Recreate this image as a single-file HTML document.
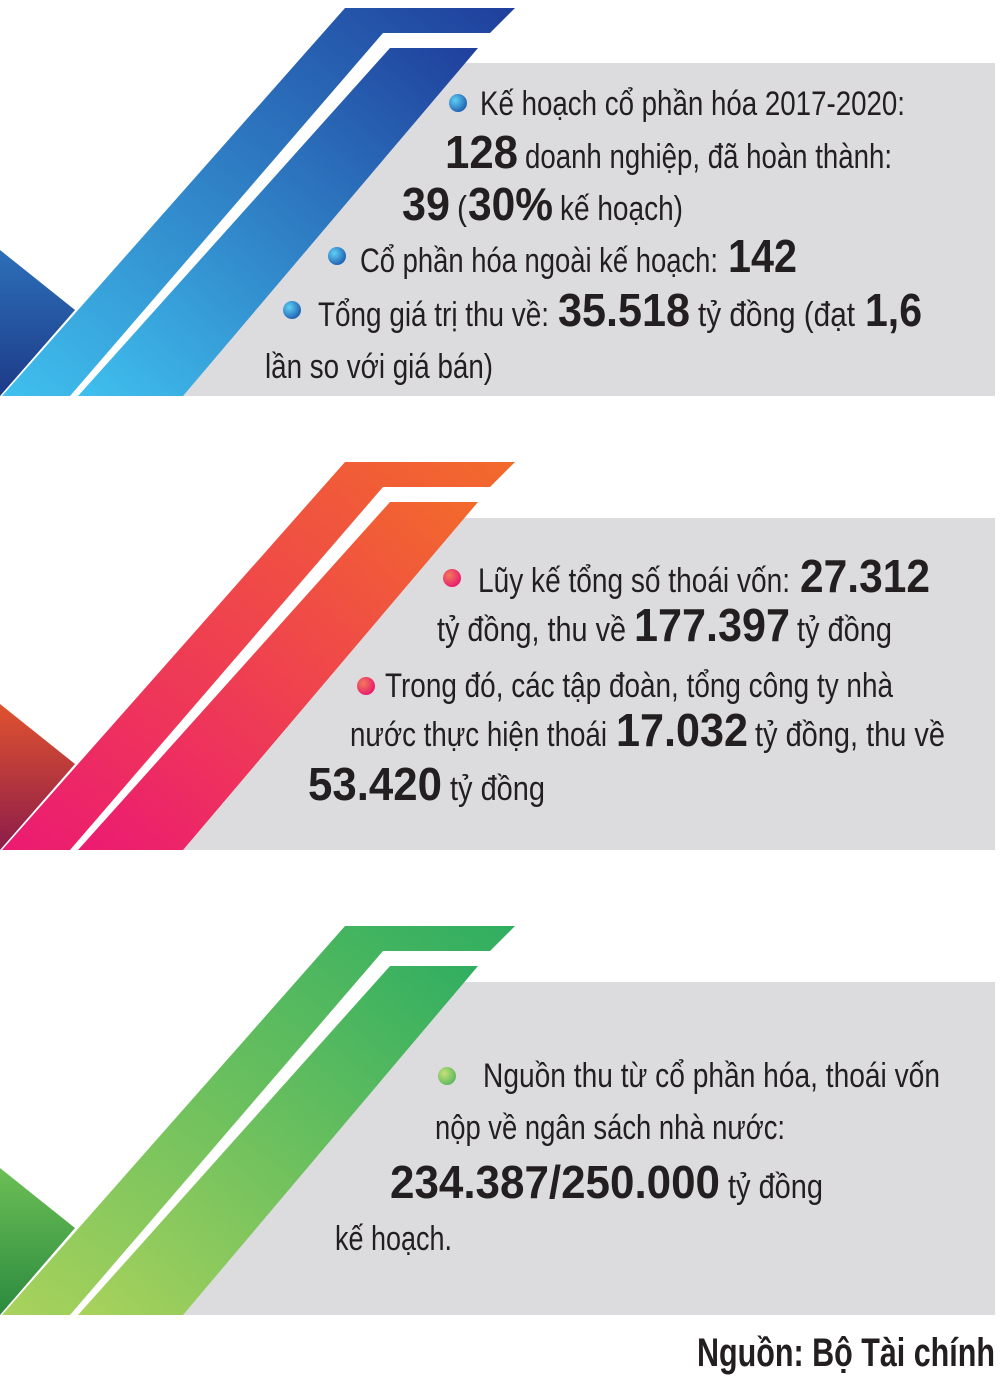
<!DOCTYPE html>
<html><head><meta charset="utf-8"><style>
html,body{margin:0;padding:0;background:#fff;}
svg{display:block;}
text{font-family:"Liberation Sans",sans-serif;fill:#231f20;}
.r{font-size:34px;}
.b{font-size:46px;font-weight:bold;}
</style></head><body>
<svg width="1000" height="1376" viewBox="0 0 1000 1376">
<defs>
<linearGradient id="bO" x1="0" y1="1" x2="1" y2="0"><stop offset="0" stop-color="#3fc0ee"/><stop offset="1" stop-color="#1f3f9c"/></linearGradient>
<linearGradient id="bT" x1="0" y1="0" x2="0" y2="1"><stop offset="0" stop-color="#2c6fb8"/><stop offset="1" stop-color="#1d3a88"/></linearGradient>
<linearGradient id="rO" x1="0" y1="1" x2="1" y2="0"><stop offset="0" stop-color="#ec1a72"/><stop offset="1" stop-color="#f26a2b"/></linearGradient>
<linearGradient id="rT" x1="0" y1="0" x2="0" y2="1"><stop offset="0" stop-color="#e0532f"/><stop offset="1" stop-color="#8c1c4a"/></linearGradient>
<linearGradient id="gO" x1="0" y1="1" x2="1" y2="0"><stop offset="0" stop-color="#a9d25c"/><stop offset="1" stop-color="#2fae60"/></linearGradient>
<linearGradient id="gT" x1="0" y1="0" x2="0" y2="1"><stop offset="0" stop-color="#6cbf55"/><stop offset="1" stop-color="#2b8a3f"/></linearGradient>
<radialGradient id="bB" cx="0.35" cy="0.35" r="0.7"><stop offset="0" stop-color="#5fd0f5"/><stop offset="1" stop-color="#1f5fb0"/></radialGradient>
<radialGradient id="rB" cx="0.35" cy="0.35" r="0.7"><stop offset="0" stop-color="#f27a5a"/><stop offset="1" stop-color="#e8196e"/></radialGradient>
<radialGradient id="gB" cx="0.35" cy="0.35" r="0.7"><stop offset="0" stop-color="#c5e07a"/><stop offset="1" stop-color="#5cb85c"/></radialGradient>
</defs>

<g transform="translate(0,8)">
<polygon points="460,55 995,55 995,388 180,388" fill="#dcdcde"/>
<polygon points="0,242 75,302 0,388" fill="url(#bT)"/>
<polygon points="345,0 515,0 490,25 383,25 70,388 2,388" fill="url(#bO)"/>
<polygon points="390,40 478,40 183,388 78,388" fill="url(#bO)"/>
</g>
<g transform="translate(0,462)">
<polygon points="460,56 995,56 995,388 180,388" fill="#dcdcde"/>
<polygon points="0,242 75,302 0,388" fill="url(#rT)"/>
<polygon points="345,0 515,0 490,25 383,25 70,388 2,388" fill="url(#rO)"/>
<polygon points="390,40 478,40 183,388 78,388" fill="url(#rO)"/>
</g>
<g transform="translate(0,926)">
<polygon points="460,56 995,56 995,389 180,389" fill="#dcdcde"/>
<polygon points="0,242 75,302 0,389" fill="url(#gT)"/>
<polygon points="345,0 515,0 490,25 383,25 70,389 2,389" fill="url(#gO)"/>
<polygon points="390,40 478,40 183,389 78,389" fill="url(#gO)"/>
</g>

<!-- panel 1 text -->
<circle cx="458" cy="103" r="9" fill="url(#bB)"/>
<text class="r" x="480" y="115" textLength="425" lengthAdjust="spacingAndGlyphs">Kế hoạch cổ phần hóa 2017-2020:</text>
<text class="b" x="445" y="168" textLength="73" lengthAdjust="spacingAndGlyphs">128</text>
<text class="r" x="525" y="168" textLength="367" lengthAdjust="spacingAndGlyphs">doanh nghiệp, đã hoàn thành:</text>
<text class="b" x="402" y="220" textLength="48" lengthAdjust="spacingAndGlyphs">39</text>
<text class="r" x="457" y="220" textLength="10" lengthAdjust="spacingAndGlyphs">(</text>
<text class="b" x="468" y="220" textLength="85" lengthAdjust="spacingAndGlyphs">30%</text>
<text class="r" x="560" y="220" textLength="123" lengthAdjust="spacingAndGlyphs">kế hoạch)</text>
<circle cx="337" cy="256" r="9" fill="url(#bB)"/>
<text class="r" x="360" y="272" textLength="358" lengthAdjust="spacingAndGlyphs">Cổ phần hóa ngoài kế hoạch:</text>
<text class="b" x="728" y="272" textLength="69" lengthAdjust="spacingAndGlyphs">142</text>
<circle cx="292" cy="310" r="9" fill="url(#bB)"/>
<text class="r" x="318" y="326" textLength="231" lengthAdjust="spacingAndGlyphs">Tổng giá trị thu về:</text>
<text class="b" x="558" y="326" textLength="132" lengthAdjust="spacingAndGlyphs">35.518</text>
<text class="r" x="698" y="326" textLength="157" lengthAdjust="spacingAndGlyphs">tỷ đồng (đạt</text>
<text class="b" x="865" y="326" textLength="57" lengthAdjust="spacingAndGlyphs">1,6</text>
<text class="r" x="265" y="378" textLength="228" lengthAdjust="spacingAndGlyphs">lần so với giá bán)</text>

<!-- panel 2 text -->
<circle cx="452" cy="578" r="9" fill="url(#rB)"/>
<text class="r" x="478" y="592" textLength="312" lengthAdjust="spacingAndGlyphs">Lũy kế tổng số thoái vốn:</text>
<text class="b" x="800" y="592" textLength="130" lengthAdjust="spacingAndGlyphs">27.312</text>
<text class="r" x="437" y="641" textLength="189" lengthAdjust="spacingAndGlyphs">tỷ đồng, thu về</text>
<text class="b" x="634" y="641" textLength="156" lengthAdjust="spacingAndGlyphs">177.397</text>
<text class="r" x="797" y="641" textLength="95" lengthAdjust="spacingAndGlyphs">tỷ đồng</text>
<circle cx="366" cy="686" r="9" fill="url(#rB)"/>
<text class="r" x="385" y="697" textLength="508" lengthAdjust="spacingAndGlyphs">Trong đó, các tập đoàn, tổng công ty nhà</text>
<text class="r" x="350" y="746" textLength="257" lengthAdjust="spacingAndGlyphs">nước thực hiện thoái</text>
<text class="b" x="616" y="746" textLength="132" lengthAdjust="spacingAndGlyphs">17.032</text>
<text class="r" x="755" y="746" textLength="190" lengthAdjust="spacingAndGlyphs">tỷ đồng, thu về</text>
<text class="b" x="308" y="800" textLength="134" lengthAdjust="spacingAndGlyphs">53.420</text>
<text class="r" x="450" y="800" textLength="95" lengthAdjust="spacingAndGlyphs">tỷ đồng</text>

<!-- panel 3 text -->
<circle cx="447" cy="1076" r="9" fill="url(#gB)"/>
<text class="r" x="483" y="1087" textLength="457" lengthAdjust="spacingAndGlyphs">Nguồn thu từ cổ phần hóa, thoái vốn</text>
<text class="r" x="435" y="1139" textLength="350" lengthAdjust="spacingAndGlyphs">nộp về ngân sách nhà nước:</text>
<text class="b" x="390" y="1198" textLength="330" lengthAdjust="spacingAndGlyphs">234.387/250.000</text>
<text class="r" x="728" y="1198" textLength="95" lengthAdjust="spacingAndGlyphs">tỷ đồng</text>
<text class="r" x="335" y="1250" textLength="117" lengthAdjust="spacingAndGlyphs">kế hoạch.</text>

<text x="697" y="1366" style="font-size:40px;font-weight:bold" textLength="298" lengthAdjust="spacingAndGlyphs">Nguồn: Bộ Tài chính</text>
</svg>
</body></html>
